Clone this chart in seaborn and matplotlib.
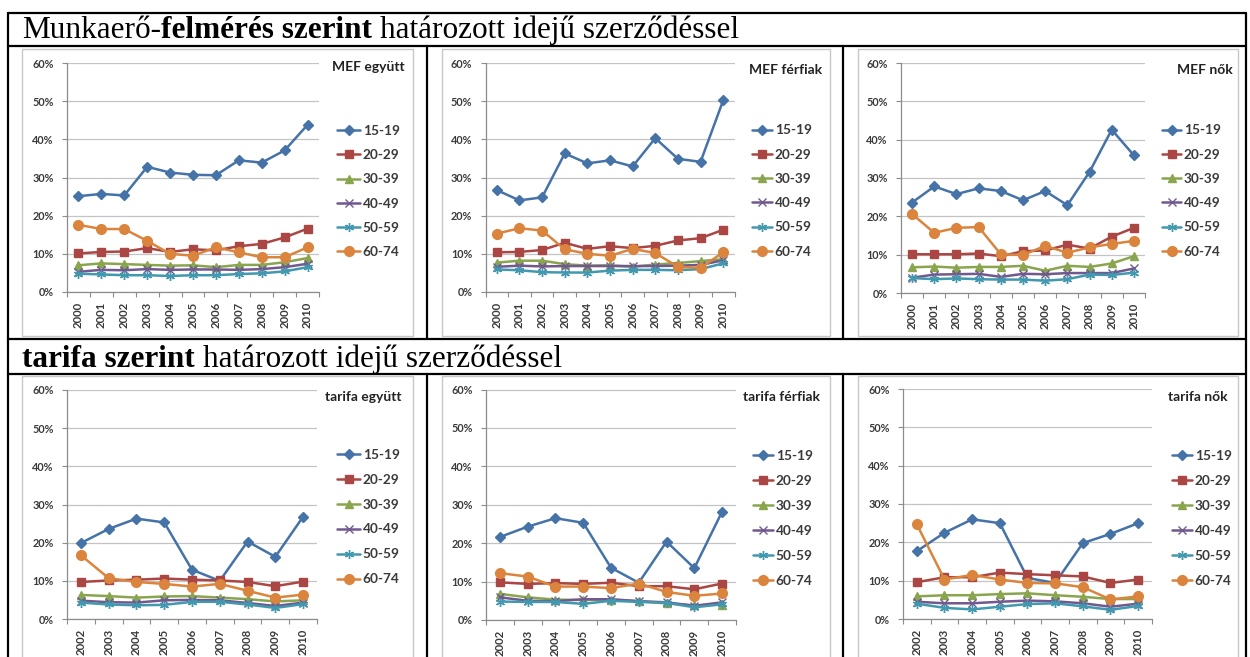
import matplotlib
matplotlib.use("Agg")
import matplotlib.pyplot as plt
import seaborn as sns
import numpy as np
import pandas as pd
from matplotlib.lines import Line2D
from matplotlib.patches import Rectangle
from matplotlib.text import Annotation
from matplotlib.ticker import FixedLocator, FuncFormatter

# ---------------- data ----------------
groups = ["15-19", "20-29", "30-39", "40-49", "50-59", "60-74"]
years_mef = [2000, 2001, 2002, 2003, 2004, 2005, 2006, 2007, 2008, 2009, 2010]
years_tarifa = [2002, 2003, 2004, 2005, 2006, 2007, 2008, 2009, 2010]

mef_egyutt = {
    "15-19": [25.1, 25.7, 25.3, 32.8, 31.3, 30.7, 30.6, 34.5, 33.9, 37.1, 43.8],
    "20-29": [10.1, 10.5, 10.6, 11.5, 10.5, 11.2, 10.9, 12.0, 12.6, 14.3, 16.6],
    "30-39": [7.0, 7.5, 7.3, 7.1, 6.9, 7.0, 6.5, 7.1, 7.1, 7.8, 8.9],
    "40-49": [5.3, 5.8, 5.7, 6.0, 5.8, 5.9, 5.9, 5.8, 6.0, 6.5, 7.4],
    "50-59": [4.8, 4.6, 4.4, 4.4, 4.2, 4.4, 4.4, 4.7, 4.9, 5.4, 6.5],
    "60-74": [17.6, 16.5, 16.5, 13.4, 10.0, 9.5, 11.7, 10.4, 9.1, 9.1, 11.7],
}
mef_ferfiak = {
    "15-19": [26.7, 24.0, 24.8, 36.3, 33.7, 34.5, 32.9, 40.3, 34.9, 34.1, 50.2],
    "20-29": [10.4, 10.5, 11.0, 12.9, 11.3, 12.0, 11.5, 12.1, 13.5, 14.1, 16.3],
    "30-39": [7.7, 8.2, 8.2, 7.3, 6.9, 7.0, 6.6, 7.2, 7.6, 8.1, 8.6],
    "40-49": [6.6, 6.9, 6.7, 6.8, 6.8, 6.8, 6.8, 6.8, 6.9, 7.1, 8.3],
    "50-59": [5.9, 5.7, 5.2, 5.1, 5.1, 5.6, 5.8, 5.8, 5.7, 6.0, 7.5],
    "60-74": [15.3, 16.7, 16.1, 11.2, 10.0, 9.5, 11.3, 10.2, 6.6, 6.3, 10.4],
}
mef_nok = {
    "15-19": [23.6, 27.8, 25.8, 27.3, 26.6, 24.2, 26.6, 22.9, 31.6, 42.6, 35.9],
    "20-29": [10.1, 10.1, 10.1, 10.3, 9.6, 10.9, 11.1, 12.6, 11.6, 14.7, 17.0],
    "30-39": [6.7, 6.9, 6.6, 6.8, 6.8, 7.1, 5.8, 7.1, 6.8, 7.7, 9.6],
    "40-49": [4.0, 4.8, 4.9, 5.0, 4.2, 5.0, 4.9, 5.2, 5.2, 5.2, 6.4],
    "50-59": [3.9, 3.6, 3.8, 3.6, 3.5, 3.5, 3.2, 3.6, 4.8, 4.7, 5.3],
    "60-74": [20.6, 15.7, 17.0, 17.2, 10.1, 9.9, 12.3, 10.5, 11.9, 12.8, 13.6],
}
tarifa_egyutt = {
    "15-19": [19.9, 23.6, 26.3, 25.3, 12.9, 10.0, 20.3, 16.3, 26.8],
    "20-29": [9.7, 10.1, 10.3, 10.6, 10.3, 10.1, 9.7, 8.6, 9.8],
    "30-39": [6.3, 6.0, 5.6, 5.9, 6.0, 5.6, 5.2, 4.6, 4.9],
    "40-49": [4.8, 4.4, 4.3, 4.9, 5.0, 4.9, 4.2, 3.4, 4.3],
    "50-59": [4.3, 3.8, 3.6, 3.7, 4.5, 4.5, 3.8, 2.9, 3.9],
    "60-74": [16.7, 10.7, 9.7, 9.2, 8.5, 9.2, 7.4, 5.6, 6.4],
}
tarifa_ferfiak = {
    "15-19": [21.6, 24.3, 26.5, 25.3, 13.6, 9.7, 20.4, 13.5, 28.2],
    "20-29": [9.8, 9.4, 9.6, 9.4, 9.7, 8.8, 8.8, 8.0, 9.5],
    "30-39": [6.8, 5.9, 5.3, 5.2, 5.3, 4.9, 4.3, 3.8, 4.0],
    "40-49": [5.9, 5.0, 4.9, 5.4, 5.4, 4.9, 4.6, 3.7, 4.6],
    "50-59": [4.8, 4.7, 4.7, 4.2, 5.0, 4.7, 4.5, 3.3, 4.1],
    "60-74": [12.2, 11.3, 8.7, 8.7, 8.3, 9.5, 7.3, 6.3, 6.9],
}
tarifa_nok = {
    "15-19": [17.7, 22.5, 26.0, 25.0, 10.7, 9.4, 19.8, 22.2, 25.0],
    "20-29": [9.6, 10.9, 10.9, 12.1, 11.7, 11.4, 11.1, 9.4, 10.3],
    "30-39": [5.9, 6.2, 6.2, 6.5, 6.7, 6.2, 5.8, 5.2, 5.2],
    "40-49": [4.5, 4.1, 4.1, 4.5, 4.8, 4.6, 4.1, 3.2, 4.0],
    "50-59": [4.0, 2.9, 2.5, 3.2, 3.9, 4.1, 3.3, 2.4, 3.4],
    "60-74": [24.7, 10.3, 11.5, 10.3, 9.4, 9.3, 8.3, 5.1, 5.9],
}

header_1 = ["Munkaerő-", "felmérés szerint", "határozott idejű szerződéssel"]
header_2 = ["tarifa szerint", "határozott idejű szerződéssel"]
panel_titles = ["MEF együtt", "MEF férfiak", "MEF nők",
                "tarifa együtt", "tarifa férfiak", "tarifa nők"]
y_ticks = [0, 10, 20, 30, 40, 50, 60]

# ---------------- style ----------------
colors = {"15-19": "#4572A7", "20-29": "#AA4643", "30-39": "#89A54E",
          "40-49": "#71588F", "50-59": "#4198AF", "60-74": "#DB843D"}
markers = {"15-19": "D", "20-29": "s", "30-39": "^",
           "40-49": "x", "50-59": (6, 2, 0), "60-74": "o"}
msizes = {"15-19": 4.8, "20-29": 6.3, "30-39": 6.0,
          "40-49": 5.5, "50-59": 6.5, "60-74": 7.0}

W, H = 1250, 657
sns.set_theme(style="white")
plt.rcParams["font.family"] = ["Lato", "DejaVu Sans"]

fig = plt.figure(figsize=(W / 100, H / 100), dpi=100)
fig.patch.set_facecolor("white")


def fx(x):
    return x / W


def fy(y):
    return 1 - y / H


TXT = "#3a3a3a"

# panel geometry (pixels): plot area x0,x1,ytop,ybot ; chart box ; legend ; title
panels = [
    dict(data=mef_egyutt, years=years_mef, plot=(67, 319, 63, 292), box=(22, 49, 413, 336),
         leg=(337, 191.5, 23, 0.9), title=(332, 67)),
    dict(data=mef_ferfiak, years=years_mef, plot=(485.5, 734.5, 63, 292), box=(442, 49, 830, 336),
         leg=(752, 191, 20, 0.9), title=(749, 70)),
    dict(data=mef_nok, years=years_mef, plot=(901, 1145, 63, 293), box=(858, 49, 1238, 336),
         leg=(1162, 191, 19, 0.9), title=(1177, 70)),
    dict(data=tarifa_egyutt, years=years_tarifa, plot=(67, 317, 390, 619), box=(22, 376, 413, 670),
         leg=(337, 517, 23, 0.95), title=(325, 397)),
    dict(data=tarifa_ferfiak, years=years_tarifa, plot=(486, 736, 389.5, 620), box=(442, 376, 830, 670),
         leg=(753, 518.5, 20, 0.95), title=(743, 397)),
    dict(data=tarifa_nok, years=years_tarifa, plot=(903, 1152, 389, 619), box=(858, 376, 1238, 670),
         leg=(1172, 518.5, 20, 0.95), title=(1168, 397)),
]

for p, title in zip(panels, panel_titles):
    bx0, by0, bx1, by1 = p["box"]
    fig.add_artist(Rectangle((fx(bx0), fy(by1)), (bx1 - bx0) / W, (by1 - by0) / H,
                             transform=fig.transFigure, facecolor="white",
                             edgecolor="#c8c8c8", lw=1.0, zorder=0))
    x0, x1, yt, yb = p["plot"]
    ax = fig.add_axes([fx(x0), fy(yb), (x1 - x0) / W, (yb - yt) / H])
    ax.set_facecolor("none")
    yrs = p["years"]
    for g in groups:
        sns.lineplot(x=yrs, y=p["data"][g], ax=ax, color=colors[g], lw=1.8,
                     marker=markers[g], markersize=msizes[g],
                     markeredgecolor=colors[g], markeredgewidth=1.0, label=g)
    ax.set_xlim(yrs[0] - 0.5, yrs[-1] + 0.5)
    ax.set_ylim(0, 60)
    ax.yaxis.set_major_locator(FixedLocator(y_ticks))
    ax.yaxis.set_major_formatter(FuncFormatter(lambda v, _: f"{v:.0f}%"))
    ax.xaxis.set_major_locator(FixedLocator(yrs))
    ax.xaxis.set_minor_locator(FixedLocator([y - 0.5 for y in yrs] + [yrs[-1] + 0.5]))
    ax.set_xticklabels([str(y) for y in yrs], rotation=90)
    ax.grid(False)
    ax.yaxis.grid(True, color="#c4c4c4", lw=0.9)
    ax.set_axisbelow(True)
    for s in ["top", "right"]:
        ax.spines[s].set_visible(False)
    for s in ["left", "bottom"]:
        ax.spines[s].set_color("#8c8c8c")
        ax.spines[s].set_linewidth(0.9)
    ax.tick_params(axis="y", which="major", direction="out", length=3.5, width=0.8,
                   color="#8c8c8c", pad=6, labelsize=7.8, labelcolor=TXT, left=True)
    ax.tick_params(axis="x", which="major", length=0, pad=7, labelsize=8.2,
                   labelcolor=TXT, bottom=True)
    ax.tick_params(axis="x", which="minor", direction="out", length=3.5, width=0.8,
                   color="#8c8c8c", bottom=True)
    for lab in ax.get_xticklabels() + ax.get_yticklabels():
        lab.set_fontweight("bold")
    ax.set_xlabel("")
    ax.set_ylabel("")
    lx, lyc, hl, lsp = p["leg"]
    fs = 9.8
    handles, labels = ax.get_legend_handles_labels()
    ax.legend(handles, labels, loc="center left",
              bbox_to_anchor=(fx(lx), fy(lyc)), bbox_transform=fig.transFigure,
              frameon=False, fontsize=fs, handlelength=hl / (fs * 100 / 72),
              handletextpad=0.2, borderpad=0, borderaxespad=0, labelspacing=lsp,
              labelcolor=TXT)
    for t in ax.get_legend().get_texts():
        t.set_fontweight("bold")
    tx, ty = p["title"]
    fig.text(fx(tx), fy(ty), title, ha="left", va="center", fontsize=10,
             fontweight="bold", color="#222222")

# ---------------- table frame ----------------
LW = 1.6


def hline(y, xa, xb):
    fig.add_artist(Line2D([fx(xa), fx(xb)], [fy(y), fy(y)], transform=fig.transFigure,
                          color="black", lw=LW, zorder=5))


def vline(x, ya, yb):
    fig.add_artist(Line2D([fx(x), fx(x)], [fy(ya), fy(yb)], transform=fig.transFigure,
                          color="black", lw=LW, zorder=5))


XL, XR = 7.5, 1246
hline(13, XL, XR)
hline(46, XL, XR)
hline(339, XL, XR)
hline(374, XL, XR)
vline(XL, 13, 660)
vline(XR, 13, 660)
for xd in (427, 843):
    vline(xd, 46, 339)
    vline(xd, 374, 660)

# ---------------- header texts ----------------
SERIF = ["Liberation Serif", "DejaVu Serif"]
HFS = 22.5
space = 0.25 * HFS


def header(parts, bolds, x, ybase):
    prev = fig.text(fx(x), fy(ybase), parts[0], ha="left", va="baseline",
                    family=SERIF, fontsize=HFS,
                    fontweight="bold" if bolds[0] else "normal", color="black")
    for i, (txt, b) in enumerate(zip(parts[1:], bolds[1:])):
        gap = 0 if parts[i].endswith("-") else space
        a = Annotation(txt, xy=(1, 0), xycoords=prev, xytext=(gap, 0),
                       textcoords="offset points", ha="left", va="bottom",
                       family=SERIF, fontsize=HFS,
                       fontweight="bold" if b else "normal", color="black")
        fig.add_artist(a)
        prev = a


header(header_1, [False, True, False], 22, 38)
header(header_2, [True, False], 22, 367)

fig.savefig("out.png", dpi=100, facecolor="white")
